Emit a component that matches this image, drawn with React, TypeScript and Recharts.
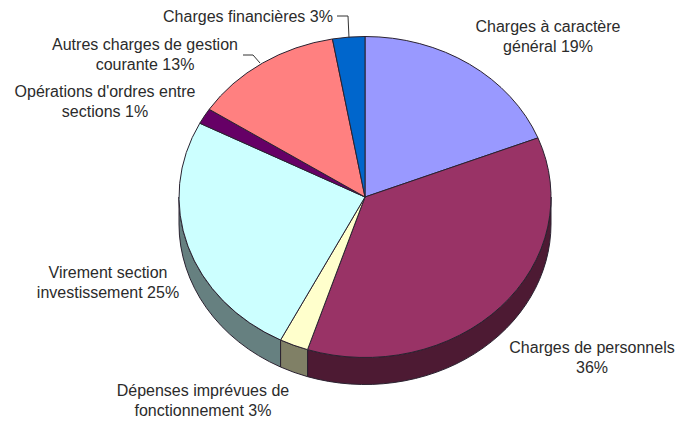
import React from "react";
import { PieChart, Pie, Cell } from "recharts";

const categories = [
  "Charges à caractère général",
  "Charges de personnels",
  "Dépenses imprévues de fonctionnement",
  "Virement section investissement",
  "Opérations d'ordres entre sections",
  "Autres charges de gestion courante",
  "Charges financières",
];
const values = [19, 36, 2.5, 25.1, 1.6, 13, 2.8];
const labelLines = [
  ["Charges à caractère", "général 19%"],
  ["Charges de personnels", "36%"],
  ["Dépenses imprévues de", "fonctionnement 3%"],
  ["Virement section", "investissement 25%"],
  ["Opérations d'ordres entre", "sections 1%"],
  ["Autres charges de gestion", "courante 13%"],
  ["Charges financières 3%"],
];
const topColors = ["#9999FF", "#993366", "#FFFFCC", "#CCFFFF", "#660066", "#FF8080", "#0066CC"];
const sideColors = ["#4D4D80", "#4D1A33", "#808066", "#668080", "#330033", "#804040", "#003366"];

const data = categories.map((name, i) => ({ name, value: values[i] }));

const W = 688, H = 421;
const CX = 365, CY = 197, RX = 186, RY = 160.5, DEPTH = 27;
const STROKE = "#2a2230";
const labelAnchors: [number, number][] = [
  [548, 32], [592, 353], [203, 396], [108, 278], [105, 97], [145, 50], [248, 22],
];
const leaders: (string | null)[] = [
  null, null, null, null, null,
  "243,55 253,55 260,63",
  "337,16 348,16 349,38",
];

const pt = (a: number, dy = 0) => {
  const t = (a * Math.PI) / 180;
  return [CX + RX * Math.cos(t), CY + dy - RY * Math.sin(t)];
};

function TopSlice(props: any) {
  const { startAngle, endAngle, fill } = props;
  const [x1, y1] = pt(startAngle);
  const [x2, y2] = pt(endAngle);
  const large = Math.abs(startAngle - endAngle) > 180 ? 1 : 0;
  return (
    <path
      d={`M${CX},${CY}L${x1},${y1}A${RX},${RY} 0 ${large} 1 ${x2},${y2}Z`}
      fill={fill}
      stroke={STROKE}
      strokeWidth={1}
      strokeLinejoin="round"
    />
  );
}

function SideSlice(props: any) {
  const { startAngle, endAngle, fill } = props;
  const s = Math.min(startAngle, 0);
  const e = Math.max(endAngle, -180);
  if (s <= e) return <g />;
  const [x1, y1] = pt(s);
  const [x2, y2] = pt(e);
  const [x3, y3] = pt(e, DEPTH);
  const [x4, y4] = pt(s, DEPTH);
  return (
    <path
      d={`M${x1},${y1}A${RX},${RY} 0 0 1 ${x2},${y2}L${x3},${y3}A${RX},${RY} 0 0 0 ${x4},${y4}Z`}
      fill={fill}
      stroke={STROKE}
      strokeWidth={1}
      strokeLinejoin="round"
    />
  );
}

function SliceLabel(props: any) {
  const { index } = props;
  const [x, y] = labelAnchors[index];
  const leader = leaders[index];
  return (
    <g>
      {leader && <polyline points={leader} fill="none" stroke="#333" strokeWidth={1} />}
      <text
        x={x}
        y={y}
        textAnchor="middle"
        fontFamily="'Liberation Sans', Arial, sans-serif"
        fontSize={16}
        fill="#2b2b2b"
      >
        {labelLines[index].map((line, i) => (
          <tspan key={i} x={x} dy={i === 0 ? 0 : 20}>
            {line}
          </tspan>
        ))}
      </text>
    </g>
  );
}

export default function App() {
  return (
    <div style={{ position: "absolute", left: 0, top: 0, width: W, height: H, background: "#fff" }}>
      <PieChart width={W} height={H} margin={{ top: 0, right: 0, bottom: 0, left: 0 }}>
        <Pie
          data={data}
          dataKey="value"
          nameKey="name"
          cx={CX}
          cy={CY}
          outerRadius={RX}
          startAngle={90}
          endAngle={-270}
          isAnimationActive={false}
          shape={SideSlice}
          label={false}
          labelLine={false}
        >
          {data.map((d, i) => (
            <Cell key={d.name} fill={sideColors[i]} />
          ))}
        </Pie>
        <Pie
          data={data}
          dataKey="value"
          nameKey="name"
          cx={CX}
          cy={CY}
          outerRadius={RX}
          startAngle={90}
          endAngle={-270}
          isAnimationActive={false}
          shape={TopSlice}
          label={SliceLabel}
          labelLine={false}
        >
          {data.map((d, i) => (
            <Cell key={d.name} fill={topColors[i]} />
          ))}
        </Pie>
      </PieChart>
    </div>
  );
}
